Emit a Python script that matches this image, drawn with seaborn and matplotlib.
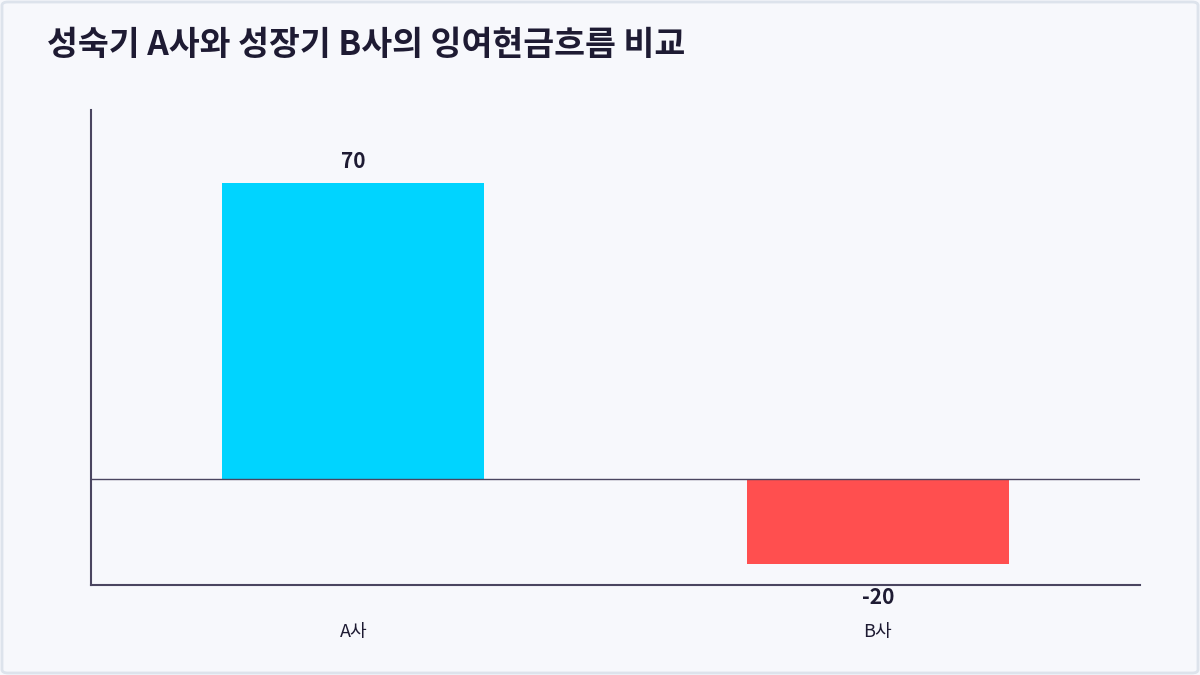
import matplotlib
matplotlib.use("Agg")
import matplotlib.pyplot as plt
import seaborn as sns
import pandas as pd
from matplotlib.patches import FancyBboxPatch

categories = ["A사", "B사"]
values = [70, -20]
colors = ["#00d4ff", "#ff4f4f"]
title = "성숙기 A사와 성장기 B사의 잉여현금흐름 비교"

sns.set_theme(style="white")
plt.rcParams['font.family'] = ['Noto Sans CJK KR', 'DejaVu Sans']

bg = "#f7f8fc"
text_c = "#1e1b33"
axis_c = "#4a4560"

fig = plt.figure(figsize=(12, 6.75), dpi=100)
fig.patch.set_facecolor(bg)
ax = fig.add_axes([91/1200, 1-585/675, (1140-91)/1200, (585-110)/675])
ax.set_facecolor(bg)

df = pd.DataFrame({"cat": categories, "val": values})
sns.barplot(data=df, x="cat", y="val", hue="cat", palette=colors,
            width=0.5, legend=False, ax=ax, saturation=1, linewidth=0)

ax.set_xlim(-0.5, 1.5)
ax.set_ylim(-25, 87.3)
ax.axhline(0, color=axis_c, lw=1, zorder=3)

for s in ["top", "right"]:
    ax.spines[s].set_visible(False)
for s in ["left", "bottom"]:
    ax.spines[s].set_color(axis_c)
    ax.spines[s].set_linewidth(1.5)

ax.set_yticks([])
ax.set_xlabel("")
ax.set_ylabel("")
ax.tick_params(axis="x", length=0, pad=27, labelsize=13, colors=text_c)

for i, v in enumerate(values):
    if v >= 0:
        ax.annotate(f"{v}", (i, v), xytext=(0, 8), textcoords="offset points",
                    ha="center", va="bottom", fontsize=15, fontweight="bold", color=text_c)
    else:
        ax.annotate(f"{v}", (i, v), xytext=(0, -17), textcoords="offset points",
                    ha="center", va="top", fontsize=15, fontweight="bold", color=text_c)

fig.text(47/1200, 1-46/675, title, fontsize=24.2, fontweight="bold", color=text_c,
         ha="left", va="center")

border = FancyBboxPatch((2/1200, 2/675), 1-4/1200, 1-4/675,
                        boxstyle="round,pad=0,rounding_size=0.005",
                        transform=fig.transFigure, facecolor="none",
                        edgecolor="#dde3ec", linewidth=2)
fig.patches.append(border)

fig.savefig("out.png", dpi=100, facecolor=bg)
